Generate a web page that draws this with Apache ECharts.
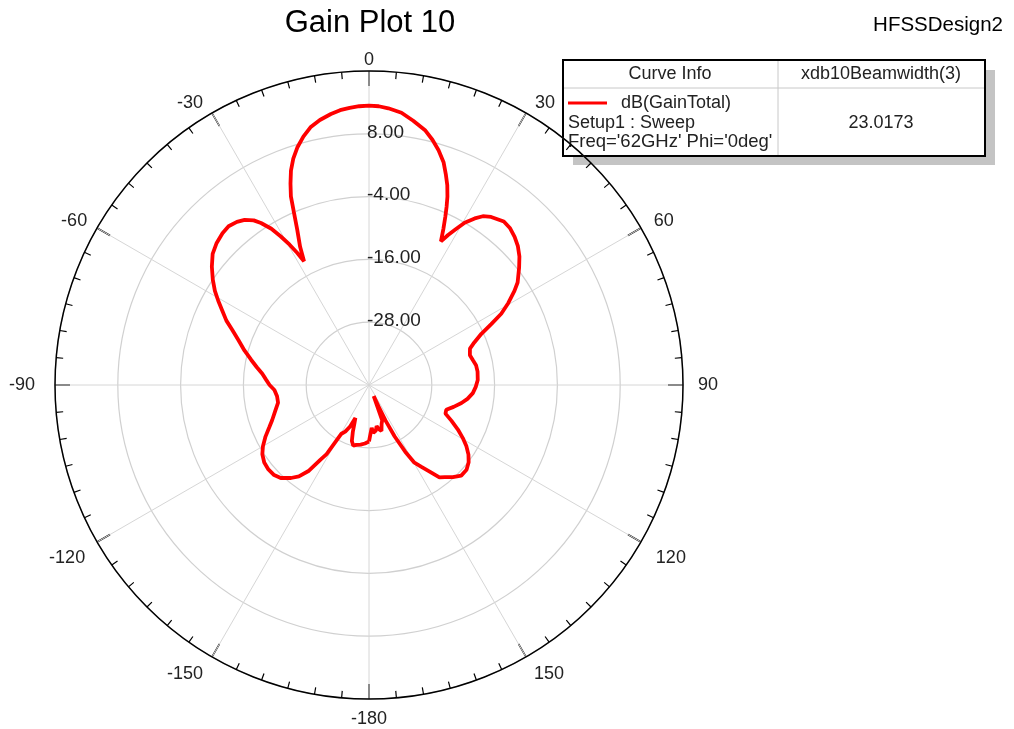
<!DOCTYPE html>
<html>
<head>
<meta charset="utf-8">
<script src="https://cdn.jsdelivr.net/npm/echarts@6/dist/echarts.min.js"></script>
<style>
html,body{margin:0;padding:0;background:#fff;}
#chart{width:1014px;height:729px;}
</style>
</head>
<body>
<div id="chart"></div>
<script>
// Theta in degrees (0 = top, clockwise positive)
const thetaDeg = [
  -180, -176, -172, -168, -165.5, -163, -161, -159, -157.5, -155.5, -153, -150.5,
  -148.5, -147, -145, -142.5, -140, -136.5, -133.5, -130, -126.5, -123, -120,
  -116.5, -113, -110, -106, -101, -97, -93, -90, -87, -84, -81, -78, -74.5, -71,
  -68, -65.7, -63, -60.8, -58.6, -56, -53, -50, -47, -44, -41.5, -39, -37, -35,
  -33.7, -32, -30.7, -29.5, -28.5, -27.7, -26.5, -24.8, -23.5, -22.5, -21.3, -20,
  -18.5, -16.8, -14.8, -12.8, -10.5, -8, -6, -4, -2, 0, 2, 4, 6.8, 9.5, 12.5,
  14.5, 16.5, 18.5, 20, 21.4, 22.6, 23.5, 24.4, 25.5, 26.6, 27.8, 29, 30.5, 32.4,
  34, 36, 39.5, 42, 44.5, 47, 49.5, 52, 55.4, 57.1, 59.5, 61.7, 63.5, 65.5, 68,
  70.2, 73.6, 76.5, 79.5, 83, 87.4, 91, 94.5, 98, 101, 104.5, 107.8, 110.5, 113.5,
  116.6, 119.5, 122.2, 125, 127.8, 131, 134.5, 137.7, 140.5, 142.7, 145, 147.5,
  149.7, 151.5, 153.5, 155, 156, 157, 159.5, 162, 164.8, 167, 169.5, 171.5, 174.9,
  176.4, 178.9, 180
];
// dB(GainTotal)
const gainDb = [
  -29.2, -28.8, -28.5, -28.3, -28.0, -28.8, -30.5, -32.3, -33.2, -31.3, -30.0, -29.3,
  -24.5, -23.0, -20.0, -18.0, -16.8, -15.5, -15.0, -14.9, -15.1, -15.7, -16.6,
  -17.9, -19.3, -20.3, -21.3, -22.3, -22.3, -21.9, -21.0, -20.3, -19.5, -18.3, -17.0, -15.3, -13.6,
  -11.8, -10.1, -8.5, -7.0, -5.5, -4.0, -2.4, -1.0, -0.2, 0.3, 0.5, 0.1, -0.5, -1.6,
  -2.8, -4.8, -7.0, -9.2, -11.3, -13.3, -10.5, -7.3, -4.0, -1.0, 1.3, 3.6,
  5.6, 7.4, 9.1, 10.5, 11.5, 12.3, 12.8, 13.1, 13.3, 13.4, 13.3, 13.0, 12.4, 11.2, 9.8,
  8.4, 6.8, 4.9, 2.9, 1.0, -1.0, -2.8, -4.7, -7.0, -9.3, -7.6, -6.1, -4.0, -2.3,
  -1.1, -0.3, 0.5, 0.3, -0.3, -1.1, -2.2, -3.6, -5.5, -6.9, -9.1, -11.3, -13.9, -16.4, -18.3,
  -19.5, -19.9, -19.6, -19.2, -19.1, -19.2, -19.6, -20.1, -21.0, -22.0, -23.3, -24.5, -24.4, -22.8,
  -21.0, -19.4, -18.0, -16.8, -15.9, -15.3, -15.3, -16.2, -17.2, -17.8, -19.8, -21.5,
  -22.8, -25.5, -29.0, -32.5, -35.5, -37.7, -32.8, -32.2, -30.9, -31.3, -32.0, -31.2, -30.8,
  -31.8, -30.2, -29.2
];
// Radial rings (dB)
const radiusMin = -40, radiusMax = 20, radiusStep = 12;
const angleTicks = [0, 30, 60, 90, 120, 150, -180, -150, -120, -90, -60, -30];

const chart = echarts.init(document.getElementById('chart'), null, {renderer: 'canvas'});
const seriesData = thetaDeg.map((t, i) => [gainDb[i], ((t % 360) + 360) % 360]);
const FONT = '"Liberation Sans", Arial, sans-serif';

// per-label padding (label placement style) keyed by angle label
const labelPad = {
  '0': [0, 0, -6, 0], '30': [0, 0, -6, 5], '60': [0, 0, -6, 6], '90': [0, 0, 0, 7],
  '120': [3, 0, 0, 8], '150': [1, 0, 0, 4], '-180': [3, 0, 0, 0], '-150': [1, 5, 0, 0],
  '-120': [3, 5, 0, 0], '-90': [0, 12, 0, 0], '-60': [0, 3, -6, 0], '-30': [0, 5, -6, 0]
};
const rich = {};
angleTicks.forEach(function (a, i) {
  rich['a' + i] = {padding: labelPad[String(a)], color: '#222', fontFamily: FONT, fontSize: 18};
});

chart.setOption({
  animation: false,
  backgroundColor: '#ffffff',
  title: [
    {text: 'Gain Plot 10', left: 365, top: 3, textAlign: 'center',
     textStyle: {fontFamily: FONT, fontSize: 31, fontWeight: 'normal', color: '#000'}},
    {text: 'HFSSDesign2', right: 6, top: 10,
     textStyle: {fontFamily: FONT, fontSize: 20.5, fontWeight: 'normal', color: '#000'}}
  ],
  polar: {center: [369, 385], radius: 314},
  angleAxis: {
    type: 'value', min: 0, max: 360, interval: 30, startAngle: 90, clockwise: true,
    axisLine: {show: true, lineStyle: {color: '#000', width: 1.5}},
    axisTick: {show: true, inside: true, length: 15, lineStyle: {color: '#000', width: 1.5}},
    minorTick: {show: true, splitNumber: 6, length: 7, lineStyle: {color: '#000', width: 1.2}},
    axisLabel: {
      show: true, margin: 8, color: '#222', fontFamily: FONT, fontSize: 18,
      formatter: function (v) {
        if (v === 360) return '';
        const d = v >= 180 ? v - 360 : v;
        const i = angleTicks.indexOf(d);
        return i >= 0 ? '{a' + i + '|' + d + '}' : '';
      },
      rich: rich
    },
    splitLine: {show: true, lineStyle: {color: '#d6d6d6', width: 1}}
  },
  radiusAxis: {
    type: 'value', min: radiusMin, max: radiusMax, interval: radiusStep,
    axisLine: {show: false}, axisTick: {show: false},
    axisLabel: {
      show: true, color: '#222', fontFamily: FONT, fontSize: 19,
      align: 'left', margin: 2, verticalAlign: 'bottom', padding: [0, 0, -8, 0],
      formatter: function (v) { return (v === radiusMin || v === radiusMax) ? '' : v.toFixed(2); }
    },
    splitLine: {show: true, lineStyle: {color: '#d0d0d0', width: 1.2}}
  },
  series: [{
    type: 'line', coordinateSystem: 'polar', data: seriesData,
    showSymbol: false, symbol: 'none', smooth: false, z: 5,
    lineStyle: {color: '#ff0000', width: 3.8}
  }],
  graphic: [
    {type: 'rect', shape: {x: 573, y: 70, width: 422, height: 95}, style: {fill: '#c4c4c4'}, silent: true},
    {type: 'rect', shape: {x: 563, y: 60, width: 422, height: 96}, style: {fill: '#fff', stroke: '#000', lineWidth: 2}, silent: true},
    {type: 'line', shape: {x1: 564, y1: 88, x2: 984, y2: 88}, style: {stroke: '#c8c8c8', lineWidth: 1}},
    {type: 'line', shape: {x1: 778, y1: 61, x2: 778, y2: 155}, style: {stroke: '#c8c8c8', lineWidth: 1}},
    {type: 'text', style: {text: 'Curve Info', x: 670, y: 74, align: 'center', verticalAlign: 'middle', font: '18px ' + FONT, fill: '#222'}},
    {type: 'text', style: {text: 'xdb10Beamwidth(3)', x: 881, y: 74, align: 'center', verticalAlign: 'middle', font: '18px ' + FONT, fill: '#222'}},
    {type: 'line', shape: {x1: 568, y1: 103, x2: 607, y2: 103}, style: {stroke: '#ff0000', lineWidth: 3}},
    {type: 'text', style: {text: 'dB(GainTotal)', x: 621, y: 103, align: 'left', verticalAlign: 'middle', font: '18px ' + FONT, fill: '#222'}},
    {type: 'text', style: {text: 'Setup1 : Sweep', x: 568, y: 123, align: 'left', verticalAlign: 'middle', font: '18px ' + FONT, fill: '#222'}},
    {type: 'text', style: {text: "Freq='62GHz' Phi='0deg'", x: 568, y: 142, align: 'left', verticalAlign: 'middle', font: '18.5px ' + FONT, fill: '#222'}},
    {type: 'text', style: {text: '23.0173', x: 881, y: 123, align: 'center', verticalAlign: 'middle', font: '18px ' + FONT, fill: '#222'}}
  ]
});
</script>
</body>
</html>
